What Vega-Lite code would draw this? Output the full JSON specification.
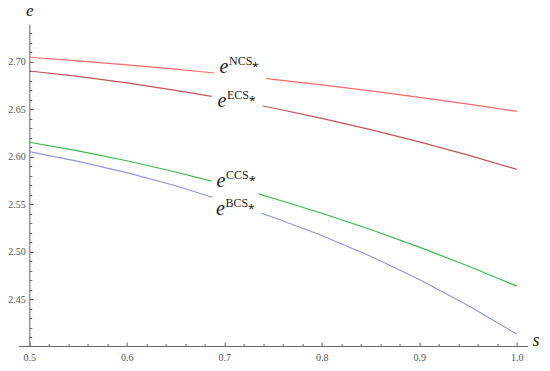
{
  "$schema": "https://vega.github.io/schema/vega-lite/v6.json",
  "autosize": "none",
  "width": 509,
  "height": 322,
  "padding": {"left": 18.6, "top": 24, "right": 22.4, "bottom": 25},
  "background": "white",
  "config": {"view": {"stroke": null}},
  "datasets": {
    "curves": [
      {"series": "NCS", "seg": "a", "s": 0.5, "e": 2.705},
      {"series": "NCS", "seg": "a", "s": 0.55, "e": 2.7012},
      {"series": "NCS", "seg": "a", "s": 0.6, "e": 2.697},
      {"series": "NCS", "seg": "a", "s": 0.65, "e": 2.6924},
      {"series": "NCS", "seg": "a", "s": 0.6897, "e": 2.6884},
      {"series": "NCS", "seg": "b", "s": 0.7428, "e": 2.6826},
      {"series": "NCS", "seg": "b", "s": 0.75, "e": 2.6818},
      {"series": "NCS", "seg": "b", "s": 0.8, "e": 2.6759},
      {"series": "NCS", "seg": "b", "s": 0.85, "e": 2.6696},
      {"series": "NCS", "seg": "b", "s": 0.9, "e": 2.6628},
      {"series": "NCS", "seg": "b", "s": 0.95, "e": 2.6556},
      {"series": "NCS", "seg": "b", "s": 1.0, "e": 2.648},
      {"series": "ECS", "seg": "a", "s": 0.5, "e": 2.6905},
      {"series": "ECS", "seg": "a", "s": 0.55, "e": 2.6848},
      {"series": "ECS", "seg": "a", "s": 0.6, "e": 2.678},
      {"series": "ECS", "seg": "a", "s": 0.65, "e": 2.6702},
      {"series": "ECS", "seg": "a", "s": 0.687, "e": 2.6638},
      {"series": "ECS", "seg": "b", "s": 0.7394, "e": 2.6537},
      {"series": "ECS", "seg": "b", "s": 0.75, "e": 2.6516},
      {"series": "ECS", "seg": "b", "s": 0.8, "e": 2.6407},
      {"series": "ECS", "seg": "b", "s": 0.85, "e": 2.6288},
      {"series": "ECS", "seg": "b", "s": 0.9, "e": 2.6159},
      {"series": "ECS", "seg": "b", "s": 0.95, "e": 2.602},
      {"series": "ECS", "seg": "b", "s": 1.0, "e": 2.587},
      {"series": "CCS", "seg": "a", "s": 0.5, "e": 2.6155},
      {"series": "CCS", "seg": "a", "s": 0.55, "e": 2.6064},
      {"series": "CCS", "seg": "a", "s": 0.6, "e": 2.596},
      {"series": "CCS", "seg": "a", "s": 0.65, "e": 2.5842},
      {"series": "CCS", "seg": "a", "s": 0.687, "e": 2.5746},
      {"series": "CCS", "seg": "b", "s": 0.7349, "e": 2.5611},
      {"series": "CCS", "seg": "b", "s": 0.75, "e": 2.5566},
      {"series": "CCS", "seg": "b", "s": 0.8, "e": 2.5408},
      {"series": "CCS", "seg": "b", "s": 0.85, "e": 2.5236},
      {"series": "CCS", "seg": "b", "s": 0.9, "e": 2.5051},
      {"series": "CCS", "seg": "b", "s": 0.95, "e": 2.4852},
      {"series": "CCS", "seg": "b", "s": 1.0, "e": 2.464},
      {"series": "BCS", "seg": "a", "s": 0.5, "e": 2.6056},
      {"series": "BCS", "seg": "a", "s": 0.55, "e": 2.5953},
      {"series": "BCS", "seg": "a", "s": 0.6, "e": 2.5835},
      {"series": "BCS", "seg": "a", "s": 0.65, "e": 2.5697},
      {"series": "BCS", "seg": "a", "s": 0.6877, "e": 2.5576},
      {"series": "BCS", "seg": "b", "s": 0.7383, "e": 2.5406},
      {"series": "BCS", "seg": "b", "s": 0.75, "e": 2.5366},
      {"series": "BCS", "seg": "b", "s": 0.8, "e": 2.5174},
      {"series": "BCS", "seg": "b", "s": 0.85, "e": 2.4955},
      {"series": "BCS", "seg": "b", "s": 0.9, "e": 2.471},
      {"series": "BCS", "seg": "b", "s": 0.95, "e": 2.4436},
      {"series": "BCS", "seg": "b", "s": 1.0, "e": 2.4134}
    ],
    "labels": [
      {"series": "NCS", "s": 0.6997, "e": 2.6887, "sup": "NCS⁎"},
      {"series": "ECS", "s": 0.6976, "e": 2.6526, "sup": "ECS⁎"},
      {"series": "CCS", "s": 0.6966, "e": 2.5684, "sup": "CCS⁎"},
      {"series": "BCS", "s": 0.6961, "e": 2.5389, "sup": "BCS⁎"}
    ]
  },
  "resolve": {"axis": {"x": "independent", "y": "independent"}},
  "layer": [
    {
      "data": {"name": "curves"},
      "mark": {"type": "line", "strokeWidth": 1.2},
      "encoding": {
        "x": {
          "field": "s", "type": "quantitative",
          "scale": {"domain": [0.489, 1.011], "nice": false, "zero": false},
          "axis": {
            "orient": "bottom",
            "values": [0.5, 0.6, 0.7, 0.8, 0.9, 1.0],
            "format": ".1f",
            "grid": false,
            "tickSize": -4,
            "labelPadding": 10,
            "domainColor": "#666666",
            "tickColor": "#666666",
            "labelFont": "Liberation Serif",
            "labelFontSize": 10,
            "labelColor": "#555555",
            "labelFlush": false,
            "title": "s",
            "titleFont": "Liberation Serif",
            "titleFontStyle": "italic",
            "titleFontWeight": "normal",
            "titleFontSize": 18,
            "titleColor": "#222222",
            "titleX": 517,
            "titleY": -1,
            "titleAlign": "center",
            "titleBaseline": "alphabetic"
          }
        },
        "y": {
          "field": "e", "type": "quantitative",
          "scale": {"domain": [2.401, 2.74], "nice": false, "zero": false},
          "axis": {
            "orient": "left",
            "offset": -10.7,
            "values": [2.45, 2.5, 2.55, 2.6, 2.65, 2.7],
            "format": ".2f",
            "grid": false,
            "tickSize": -4,
            "labelPadding": 8,
            "domainColor": "#666666",
            "tickColor": "#666666",
            "labelFont": "Liberation Serif",
            "labelFontSize": 10,
            "labelColor": "#555555",
            "labelFlush": false,
            "title": "e",
            "titleFont": "Liberation Serif",
            "titleFontStyle": "italic",
            "titleFontWeight": "normal",
            "titleFontSize": 17,
            "titleColor": "#222222",
            "titleAngle": 0,
            "titleX": 0,
            "titleY": -9,
            "titleAlign": "center",
            "titleBaseline": "alphabetic"
          }
        },
        "color": {
          "field": "series", "type": "nominal",
          "scale": {"domain": ["NCS", "ECS", "CCS", "BCS"], "range": ["#ff6b6b", "#c05555", "#3cba4c", "#9494dc"]},
          "legend": null
        },
        "detail": {"field": "seg"}
      }
    },
    {
      "data": {"name": "labels"},
      "mark": {"type": "text", "font": "Liberation Serif", "fontStyle": "italic", "fontSize": 20, "align": "center", "baseline": "alphabetic", "color": "#222222"},
      "encoding": {
        "x": {
          "field": "s", "type": "quantitative",
          "axis": {
            "orient": "bottom",
            "values": [0.52, 0.54, 0.56, 0.58, 0.62, 0.64, 0.66, 0.68, 0.72, 0.74, 0.76, 0.78, 0.82, 0.84, 0.86, 0.88, 0.92, 0.94, 0.96, 0.98],
            "labels": false, "domain": false, "grid": false,
            "tickSize": -2.5, "tickColor": "#666666", "title": null
          }
        },
        "y": {
          "field": "e", "type": "quantitative",
          "axis": {
            "orient": "left",
            "offset": -10.7,
            "values": [2.41, 2.42, 2.43, 2.44, 2.46, 2.47, 2.48, 2.49, 2.51, 2.52, 2.53, 2.54, 2.56, 2.57, 2.58, 2.59, 2.61, 2.62, 2.63, 2.64, 2.66, 2.67, 2.68, 2.69, 2.71, 2.72, 2.73],
            "labels": false, "domain": false, "grid": false,
            "tickSize": -2.5, "tickColor": "#666666", "title": null
          }
        },
        "text": {"value": "e"}
      }
    },
    {
      "data": {"name": "labels"},
      "mark": {"type": "text", "font": "Liberation Serif", "fontSize": 12, "align": "left", "baseline": "alphabetic", "dx": 5, "dy": -8, "color": "#222222"},
      "encoding": {
        "x": {"field": "s", "type": "quantitative", "axis": null},
        "y": {"field": "e", "type": "quantitative", "axis": null},
        "text": {"field": "sup"}
      }
    }
  ]
}
